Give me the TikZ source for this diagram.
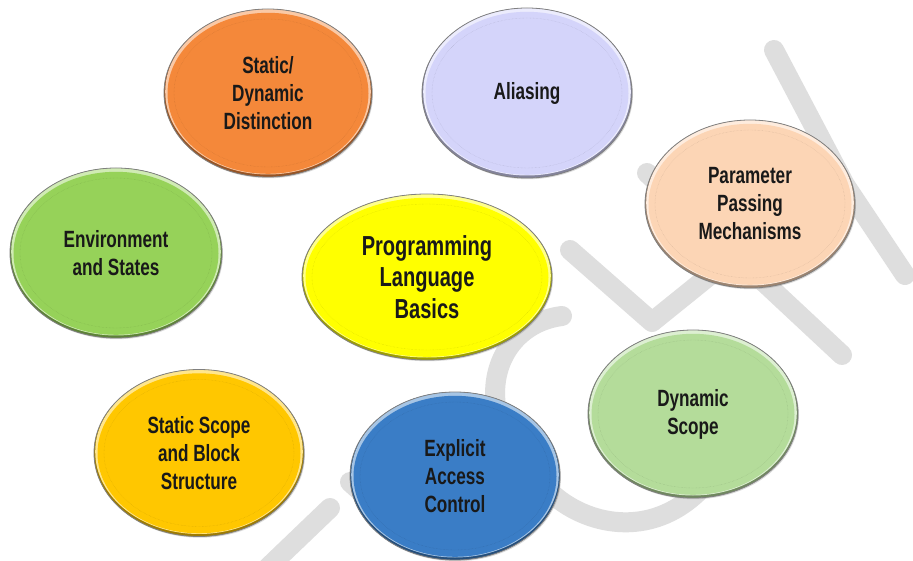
\documentclass[tikz,border=0pt]{standalone}
\usepackage{fontspec}
\newfontfamily\bubblefont{Liberation Sans}[FakeStretch=0.73]
\usetikzlibrary{shapes.geometric,shadows,calc}
\definecolor{orangeb}{HTML}{F4883A}
\definecolor{lavenderb}{HTML}{D4D4FA}
\definecolor{greenb}{HTML}{96D259}
\definecolor{yellowb}{HTML}{FFFF00}
\definecolor{peachb}{HTML}{FCD5B5}
\definecolor{mintb}{HTML}{B4DC9A}
\definecolor{goldb}{HTML}{FFC700}
\definecolor{blueb}{HTML}{3A7DC6}
\begin{document}
\begin{tikzpicture}[
			x=1pt, y=-1pt,
			watermark/.style={draw=black!13, line width=20pt, line cap=round, line join=round},
			bubble/.style={
					ellipse, minimum width=210pt, minimum height=168pt, inner sep=0pt, align=center,
					font=\bubblefont\bfseries\fontsize{23.5}{28}\selectfont, text=black!90,
					fill=#1, draw=black!50, line width=0.8pt,
					drop shadow={shadow xshift=1pt, shadow yshift=-1.2pt, opacity=0.3},
					path picture={
							\fill[#1!62!black] (path picture bounding box.south west) rectangle (path picture bounding box.north east);
							\fill[#1!45!white] let \p1=(path picture bounding box.north east), \p2=(path picture bounding box.center) in
							([yshift=1.3pt]\p2) ellipse ({\x1-\x2-1.2pt} and {\y1-\y2-1.2pt});
							\fill[#1] let \p1=(path picture bounding box.north east), \p2=(path picture bounding box.center) in
							([yshift=-0.3pt]\p2) ellipse ({\x1-\x2-3.5pt} and {\y1-\y2-3.5pt});
							\draw[#1!70!black, opacity=0.5, line width=0.4pt, densely dotted] let \p1=(path picture bounding box.north east), \p2=(path picture bounding box.center) in
							(\p2) ellipse ({\x1-\x2-10pt} and {\y1-\y2-10pt});
						}
				}
		]
		\useasboundingbox[fill=white] (0,0) rectangle (913,561);
		\begin{scope}
			\clip (0,0) rectangle (913,561);
			\draw[watermark] (257,578) -- (330,508);
			\draw[watermark] (350,482) -- (420,545);
			\draw[watermark] (562,316) .. controls (490,325) and (462,420) .. (550,492) .. controls (585,525) and (650,540) .. (700,490);
			\draw[watermark] (570,250) -- (652,322) -- (735,255);
			\draw[watermark] (647,173) -- (842,355);
			\draw[watermark] (774,50) -- (845,185) -- (905,275);
		\end{scope}
		\node[bubble=orangeb, minimum width=208pt] (distinction) at (268,93) {Static/\\Dynamic\\Distinction};
		\node[bubble=lavenderb, minimum height=170pt] (aliasing) at (527,93) {Aliasing};
		\node[bubble=greenb, minimum width=212pt, minimum height=170pt] (env) at (116,253) {Environment\\and States};
		\node[bubble=peachb] (params) at (750,204) {Parameter\\Passing\\Mechanisms};
		\node[bubble=yellowb, minimum width=250pt, minimum height=166pt, font=\bubblefont\bfseries\fontsize{27.5}{31.5}\selectfont] (basics) at (427,277) {Programming\\Language\\Basics};
		\node[bubble=mintb] (dynscope) at (693,414) {Dynamic\\Scope};
		\node[bubble=goldb, minimum height=167pt] (blockscope) at (199,453) {Static Scope\\and Block\\Structure};
		\node[bubble=blueb] (access) at (455,476) {Explicit\\Access\\Control};
	\end{tikzpicture}
\end{document}
